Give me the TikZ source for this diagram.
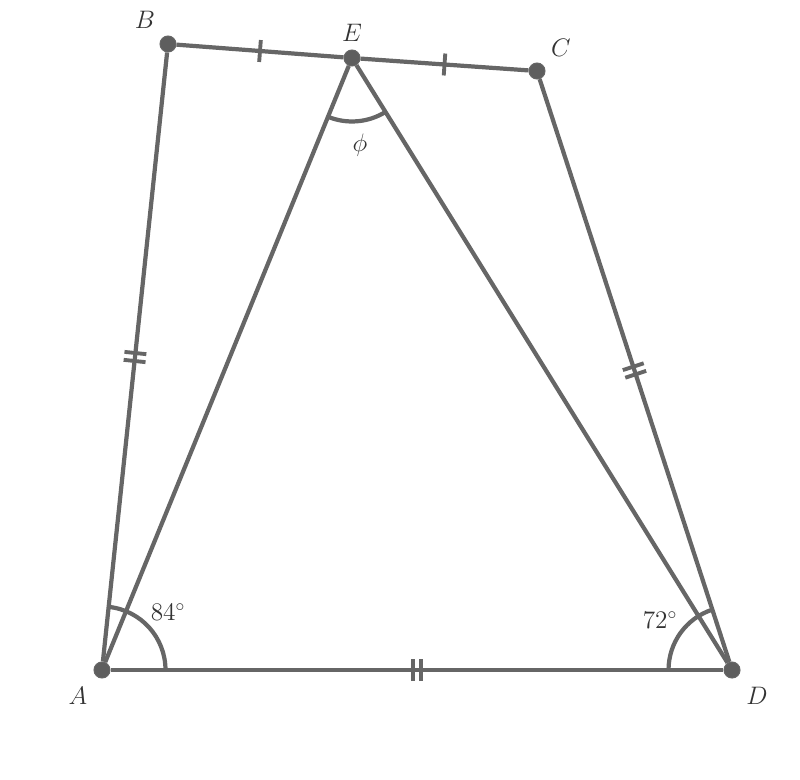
\documentclass[tikz,border=0pt]{standalone}
\usetikzlibrary{positioning,angles,decorations.markings}
\definecolor{linegray}{HTML}{666666}
\definecolor{dotgray}{HTML}{5E5E5E}
\tikzset{
  point/.style={circle,fill=dotgray,draw=linegray,line width=0.6pt,inner sep=0pt,minimum size=0.32cm},
  edge line/.style={draw=linegray,line width=2.4pt},
  single tick/.style={edge line,postaction={decorate},decoration={markings,mark=at position 0.5 with {\draw[linegray,line width=2.2pt] (0,-0.22cm) -- (0,0.22cm);}}},
  double tick/.style={edge line,postaction={decorate},decoration={markings,mark=at position 0.5 with {\draw[linegray,line width=2.2pt] (-0.08cm,-0.22cm) -- (-0.08cm,0.22cm); \draw[linegray,line width=2.2pt] (0.08cm,-0.22cm) -- (0.08cm,0.22cm);}}},
  angle mark/.style={draw=linegray,line width=2.4pt,angle radius=1.27cm},
  vertex label/.style={font=\fontsize{14}{16}\selectfont,text=black!80},
}

\begin{document}
\begin{tikzpicture}[x=0.02cm,y=0.02cm]
\useasboundingbox (0,0) rectangle (800,779);
% the points
\node [point] (A) at (102,109) {};
\node [point] (B) at (168,735) {};
\node [point] (E) at (352,721) {};
\node [point] (C) at (537,708) {};
\node [point] (D) at (732,109) {};
%drawings of sides
\draw[double tick] (A) -- (B);
\draw[single tick] (B) -- (E);
\draw[single tick] (E) -- (C);
\draw[double tick] (C) -- (D);
\draw[double tick] (A) -- (D);
\draw[edge line] (A) -- (E);
\draw[edge line] (E) -- (D);
%angles
\pic [angle mark] {angle=D--A--B};
\pic [angle mark] {angle=C--D--A};
\pic [angle mark] {angle=A--E--D};
% the labels
\node [vertex label] (lblA) at (78,83) {$A$};
\node [vertex label] (lblB) at (145,759) {$B$};
\node [vertex label] (lblE) at (352,746) {$E$};
\node [vertex label] (lblC) at (561,731) {$C$};
\node [vertex label] (lblD) at (757,83) {$D$};
\node [vertex label] (lblphi) at (360,634) {$\phi$};
\node [vertex label] (lblA84) at (168,167) {$84^{\circ}$};
\node [vertex label] (lblD72) at (660,159) {$72^{\circ}$};
\end{tikzpicture}
\end{document}
